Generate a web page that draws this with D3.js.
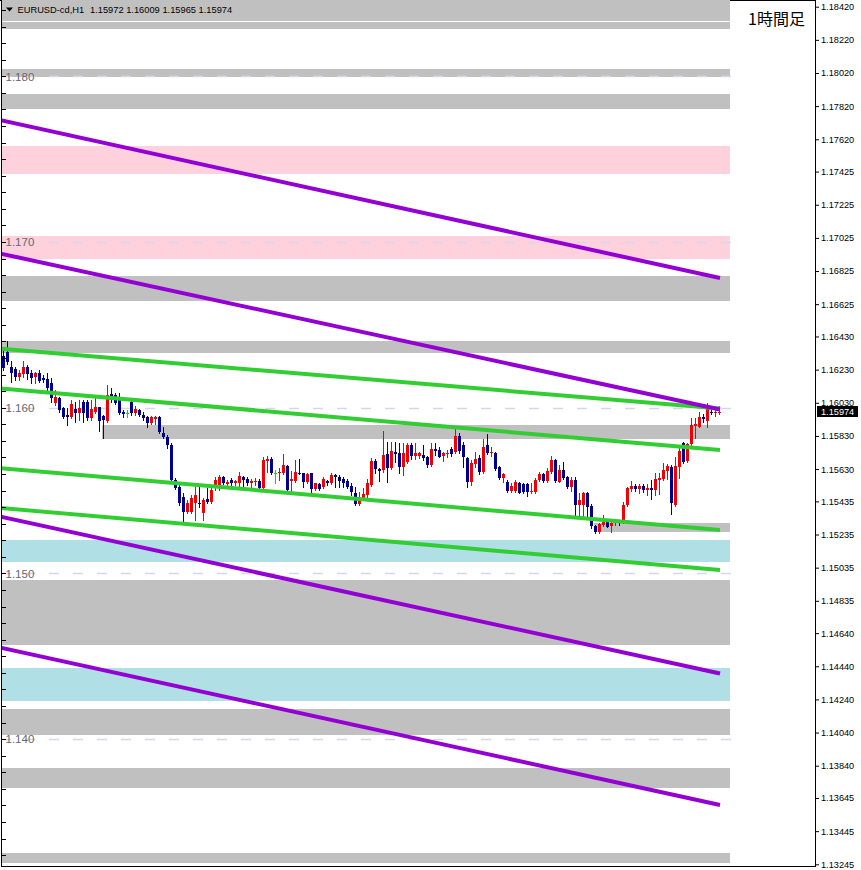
<!DOCTYPE html>
<html><head><meta charset="utf-8">
<script src="https://cdn.jsdelivr.net/npm/d3@7"></script>
<style>body{margin:0;background:#fff}svg{display:block}</style>
</head><body>
<svg id="c" width="861" height="870"></svg>
<script>
// ---------------- DATA ----------------
const symbolLabel = "EURUSD-cd,H1";
const lastQuote = [1.15972, 1.16009, 1.15965, 1.15974]; // O H L C of last bar
const timeframeLabel = "1時間足";

const open = [1.16312,1.16336,1.16246,1.16234,1.16186,1.16204,1.16246,1.16210,1.16186,1.16210,
1.16180,1.16174,1.16149,1.16029,1.16059,1.15999,1.15956,1.15944,1.15993,1.15968,
1.16035,1.16035,1.15938,1.15974,1.16005,1.15950,1.15920,1.16083,1.16077,1.16047,
1.15974,1.15968,1.16035,1.15968,1.15986,1.15956,1.15944,1.15908,1.15932,1.15944,
1.15848,1.15824,1.15775,1.15564,1.15522,1.15462,1.15371,1.15371,1.15425,1.15425,
1.15365,1.15450,1.15431,1.15522,1.15516,1.15582,1.15540,1.15564,1.15546,1.15546,
1.15582,1.15570,1.15546,1.15552,1.15558,1.15516,1.15679,1.15691,1.15606,1.15606,
1.15606,1.15649,1.15558,1.15558,1.15606,1.15606,1.15552,1.15606,1.15510,1.15540,
1.15522,1.15558,1.15546,1.15594,1.15582,1.15570,1.15558,1.15528,1.15486,1.15419,
1.15456,1.15474,1.15534,1.15679,1.15631,1.15624,1.15721,1.15637,1.15733,1.15727,
1.15643,1.15673,1.15775,1.15709,1.15709,1.15715,1.15703,1.15655,1.15751,1.15745,
1.15709,1.15721,1.15751,1.15733,1.15829,1.15775,1.15697,1.15552,1.15661,1.15697,
1.15612,1.15775,1.15724,1.15727,1.15643,1.15576,1.15552,1.15498,1.15498,1.15546,
1.15540,1.15540,1.15492,1.15492,1.15564,1.15600,1.15558,1.15612,1.15685,1.15552,
1.15624,1.15582,1.15522,1.15564,1.15413,1.15413,1.15486,1.15407,1.15287,1.15250,
1.15293,1.15311,1.15287,1.15305,1.15311,1.15311,1.15413,1.15510,1.15528,1.15510,
1.15528,1.15504,1.15516,1.15504,1.15564,1.15570,1.15618,1.15643,1.15413,1.15643,
1.15787,1.15679,1.15781,1.15890,1.15884,1.15944,1.15920,1.15974,1.15968,1.15972];

const high = [1.16348,1.16403,1.16282,1.16246,1.16228,1.16282,1.16258,1.16228,1.16216,1.16228,
1.16198,1.16210,1.16180,1.16107,1.16065,1.16005,1.15999,1.16047,1.16035,1.16047,
1.16047,1.16047,1.16047,1.16059,1.16005,1.15956,1.16137,1.16119,1.16089,1.16089,
1.15986,1.15986,1.16041,1.16011,1.15993,1.15974,1.15950,1.15950,1.15950,1.15950,
1.15884,1.15836,1.15787,1.15576,1.15534,1.15486,1.15443,1.15474,1.15522,1.15522,
1.15456,1.15516,1.15516,1.15582,1.15594,1.15588,1.15564,1.15576,1.15564,1.15612,
1.15588,1.15582,1.15570,1.15576,1.15570,1.15703,1.15709,1.15703,1.15624,1.15637,
1.15721,1.15655,1.15618,1.15685,1.15691,1.15606,1.15606,1.15606,1.15546,1.15546,
1.15582,1.15564,1.15606,1.15600,1.15594,1.15582,1.15570,1.15546,1.15522,1.15492,
1.15516,1.15570,1.15697,1.15691,1.15637,1.15860,1.15793,1.15793,1.15793,1.15787,
1.15787,1.15787,1.15787,1.15787,1.15733,1.15775,1.15709,1.15787,1.15787,1.15763,
1.15733,1.15745,1.15763,1.15872,1.15848,1.15793,1.15703,1.15685,1.15733,1.15715,
1.15811,1.15842,1.15763,1.15733,1.15649,1.15606,1.15564,1.15546,1.15564,1.15552,
1.15546,1.15546,1.15546,1.15576,1.15612,1.15606,1.15637,1.15709,1.15691,1.15655,
1.15673,1.15588,1.15582,1.15582,1.15486,1.15492,1.15492,1.15419,1.15293,1.15305,
1.15353,1.15323,1.15323,1.15323,1.15323,1.15431,1.15522,1.15558,1.15540,1.15540,
1.15540,1.15540,1.15564,1.15606,1.15606,1.15667,1.15661,1.15655,1.15703,1.15763,
1.15793,1.15787,1.15938,1.15938,1.15974,1.15962,1.16029,1.15986,1.15986,1.16009];

const low = [1.16228,1.16264,1.16155,1.16167,1.16167,1.16186,1.16174,1.16149,1.16149,1.16155,
1.16155,1.16107,1.16035,1.16017,1.15974,1.15938,1.15896,1.15938,1.15914,1.15926,
1.15914,1.15926,1.15926,1.15968,1.15860,1.15818,1.15914,1.16035,1.16023,1.15962,
1.15944,1.15944,1.15956,1.15956,1.15950,1.15926,1.15884,1.15902,1.15902,1.15848,
1.15818,1.15757,1.15552,1.15510,1.15413,1.15311,1.15365,1.15365,1.15323,1.15401,
1.15323,1.15425,1.15425,1.15504,1.15504,1.15540,1.15534,1.15534,1.15534,1.15522,
1.15522,1.15534,1.15522,1.15534,1.15504,1.15510,1.15612,1.15600,1.15546,1.15564,
1.15600,1.15498,1.15498,1.15552,1.15600,1.15522,1.15546,1.15492,1.15504,1.15504,
1.15516,1.15534,1.15540,1.15522,1.15522,1.15522,1.15516,1.15474,1.15413,1.15413,
1.15450,1.15462,1.15528,1.15606,1.15558,1.15612,1.15552,1.15631,1.15673,1.15606,
1.15594,1.15667,1.15691,1.15691,1.15697,1.15685,1.15643,1.15649,1.15715,1.15703,
1.15679,1.15703,1.15709,1.15727,1.15727,1.15643,1.15522,1.15534,1.15643,1.15600,
1.15606,1.15721,1.15709,1.15624,1.15570,1.15552,1.15492,1.15492,1.15492,1.15486,
1.15486,1.15468,1.15486,1.15486,1.15558,1.15552,1.15552,1.15606,1.15552,1.15552,
1.15570,1.15516,1.15498,1.15353,1.15353,1.15347,1.15347,1.15275,1.15244,1.15244,
1.15287,1.15281,1.15250,1.15293,1.15293,1.15305,1.15407,1.15498,1.15498,1.15486,
1.15492,1.15474,1.15450,1.15474,1.15480,1.15564,1.15570,1.15359,1.15407,1.15576,
1.15667,1.15673,1.15775,1.15818,1.15884,1.15914,1.15884,1.15962,1.15950,1.15965];

const close = [1.16240,1.16276,1.16210,1.16186,1.16210,1.16246,1.16204,1.16180,1.16210,1.16161,
1.16167,1.16119,1.16059,1.16065,1.15986,1.15944,1.15944,1.16023,1.15968,1.15999,
1.15968,1.15938,1.15993,1.16005,1.15920,1.15926,1.16077,1.16047,1.16029,1.15968,
1.15962,1.15968,1.15968,1.15993,1.15956,1.15938,1.15908,1.15944,1.15944,1.15854,
1.15824,1.15775,1.15564,1.15516,1.15425,1.15371,1.15425,1.15456,1.15474,1.15419,
1.15443,1.15431,1.15504,1.15564,1.15582,1.15546,1.15552,1.15546,1.15558,1.15588,
1.15564,1.15546,1.15558,1.15558,1.15516,1.15685,1.15691,1.15606,1.15606,1.15612,
1.15655,1.15504,1.15570,1.15612,1.15600,1.15552,1.15600,1.15510,1.15546,1.15510,
1.15570,1.15546,1.15594,1.15582,1.15558,1.15546,1.15522,1.15492,1.15419,1.15437,
1.15480,1.15546,1.15679,1.15631,1.15618,1.15715,1.15637,1.15739,1.15721,1.15643,
1.15727,1.15775,1.15709,1.15727,1.15727,1.15697,1.15655,1.15751,1.15739,1.15703,
1.15727,1.15727,1.15721,1.15829,1.15739,1.15703,1.15552,1.15667,1.15691,1.15612,
1.15763,1.15727,1.15730,1.15631,1.15576,1.15600,1.15498,1.15528,1.15552,1.15486,
1.15492,1.15492,1.15498,1.15564,1.15600,1.15558,1.15618,1.15685,1.15558,1.15624,
1.15576,1.15522,1.15564,1.15413,1.15443,1.15486,1.15401,1.15287,1.15250,1.15299,
1.15311,1.15281,1.15305,1.15311,1.15305,1.15413,1.15516,1.15528,1.15510,1.15528,
1.15504,1.15516,1.15504,1.15570,1.15576,1.15624,1.15649,1.15425,1.15649,1.15739,
1.15673,1.15781,1.15896,1.15902,1.15944,1.15932,1.16005,1.15968,1.15974,1.15974];

// right price-scale tick labels
const priceTicks = [1.18420,1.18220,1.18020,1.17820,1.17620,1.17425,1.17225,1.17025,1.16825,
1.16625,1.16430,1.16230,1.16030,1.15830,1.15630,1.15435,1.15235,1.15035,1.14835,1.14640,
1.14440,1.14240,1.14040,1.13840,1.13645,1.13445,1.13245];
// round-number levels (dashed) with labels
const roundLevels = [1.180, 1.170, 1.160, 1.150, 1.140];

// zones: [upper price, lower price, first bar (null = from left edge)]
const greyZones = [
  [1.18460,1.18334,null],[1.18328,1.18285,null],[1.18044,1.17996,null],[1.17893,1.17802,null],
  [1.16795,1.16644,null],[1.16403,1.16331,null],[1.15896,1.15812,25],[1.15305,1.15251,148],
  [1.14961,1.14568,null],[1.14182,1.14025,null],[1.13826,1.13705,null],[1.13313,1.13253,null]
];
const pinkZones = [[1.17579,1.17410,null],[1.17036,1.16898,null]];
const blueZones = [[1.15202,1.15069,null],[1.14430,1.14231,null]];

// channel lines: [price at lineBars[0], price at lineBars[1]]
const greenLines = [[1.16357,1.15995],[1.16116,1.15745],[1.15636,1.15262],[1.15395,1.15021]];
const purpleLines = [[1.17736,1.16783],[1.16931,1.15989],[1.15344,1.14396],[1.14553,1.13603]];
const lineBars = [-0.75, 179.25];
const zoneEndBar = 181.75;
const levelEndBar = 183.75;

// ---------------- DRAW ----------------
const svg = d3.select("#c");
const W = 861, H = 870;
const plotRight = 815, plotBottom = 866;
const uiFont = "Liberation Sans, Arial, sans-serif";

const x = d3.scaleLinear().domain([0, close.length - 1]).range([3, 719]);
const y = d3.scaleLinear().domain([1.13245, 1.18420]).range([864.3, 6.7]);

svg.append("rect").attr("width", W).attr("height", H).attr("fill", "#fff");

svg.append("defs").append("clipPath").attr("id", "plot")
  .append("rect").attr("x", 1).attr("y", 0).attr("width", plotRight - 1).attr("height", plotBottom);

svg.append("line").attr("x1", 0).attr("x2", plotRight).attr("y1", 0.5).attr("y2", 0.5).attr("stroke", "#000");

const plot = svg.append("g").attr("clip-path", "url(#plot)");

function drawZones(list, color) {
  plot.append("g").selectAll("rect").data(list).join("rect")
    .attr("x", d => d[2] === null ? 0 : Math.round(x(d[2])) - 1)
    .attr("width", d => Math.round(x(zoneEndBar)) - (d[2] === null ? 0 : Math.round(x(d[2])) - 1))
    .attr("y", d => Math.round(y(d[0])))
    .attr("height", d => Math.max(1, Math.round(y(d[1])) - Math.round(y(d[0]))))
    .attr("fill", color)
    .attr("shape-rendering", "crispEdges");
}
drawZones(greyZones, "#c0c0c0");
drawZones(pinkZones, "#ffd1dc");
drawZones(blueZones, "#b0e0e6");

// dashed round levels
plot.append("g").selectAll("line").data(roundLevels).join("line")
  .attr("x1", 1).attr("x2", x(levelEndBar))
  .attr("y1", d => Math.round(y(d)) + 0.5).attr("y2", d => Math.round(y(d)) + 0.5)
  .attr("stroke", "#d6d6ec").attr("stroke-width", 1.4).attr("stroke-dasharray", "10,14");

// candles
const idx = d3.range(close.length);
const colorOf = i => close[i] > open[i] ? "#f00000" : (close[i] < open[i] ? "#00008b" : "#00e000");
const cg = plot.append("g").attr("shape-rendering", "crispEdges");
cg.selectAll("rect.w").data(idx).join("rect").attr("class", "w")
  .attr("x", i => Math.round(x(i))).attr("width", 1)
  .attr("y", i => Math.round(y(high[i])))
  .attr("height", i => Math.max(1, Math.round(y(low[i])) - Math.round(y(high[i])) + 1))
  .attr("fill", colorOf);
cg.selectAll("rect.b").data(idx).join("rect").attr("class", "b")
  .attr("x", i => Math.round(x(i)) - 1).attr("width", 3)
  .attr("y", i => Math.round(y(Math.max(open[i], close[i]))))
  .attr("height", i => Math.max(1, Math.round(y(Math.min(open[i], close[i]))) - Math.round(y(Math.max(open[i], close[i])))))
  .attr("fill", colorOf);

// channel lines
function drawLines(list, color) {
  plot.append("g").selectAll("line").data(list).join("line")
    .attr("x1", x(lineBars[0])).attr("x2", x(lineBars[1]))
    .attr("y1", d => y(d[0])).attr("y2", d => y(d[1]))
    .attr("stroke", color).attr("stroke-width", 4);
}
drawLines(greenLines, "#32cd32");
drawLines(purpleLines, "#9400d3");

// round-level labels
svg.append("g").selectAll("text").data(roundLevels).join("text")
  .attr("x", 5.5).attr("y", d => y(d) + 4.3)
  .attr("font-family", uiFont).attr("font-size", 11.5)
  .attr("fill", "#68686e").text(d3.format(".3f"));

// left minor ticks every 0.001
svg.append("g").selectAll("line").data(d3.range(1133, 1185).map(v => v / 1000)).join("line")
  .attr("x1", 1).attr("x2", 6)
  .attr("y1", d => Math.round(y(d)) + 0.5).attr("y2", d => Math.round(y(d)) + 0.5)
  .attr("stroke", "#000");

// frame lines
svg.append("line").attr("x1", 1.5).attr("x2", 1.5).attr("y1", 0).attr("y2", plotBottom + 1).attr("stroke", "#000");
svg.append("line").attr("x1", plotRight + 0.5).attr("x2", plotRight + 0.5).attr("y1", 0).attr("y2", plotBottom + 1).attr("stroke", "#000");
svg.append("line").attr("x1", 1).attr("x2", plotRight).attr("y1", plotBottom + 0.5).attr("y2", plotBottom + 0.5).attr("stroke", "#000");

// right price axis
const axis = d3.axisRight(y).tickValues(priceTicks).tickFormat(d3.format(".5f")).tickSize(4).tickPadding(2);
const ag = svg.append("g").attr("transform", `translate(${plotRight},0)`).call(axis);
ag.select(".domain").remove();
ag.selectAll("line").attr("stroke", "#000");
ag.selectAll("text").attr("font-family", uiFont).attr("font-size", 9.2).attr("fill", "#000");

// current price tag
const lastClose = lastQuote[3];
svg.append("rect").attr("x", 817).attr("y", Math.round(y(lastClose)) - 6).attr("width", 41).attr("height", 11).attr("fill", "#000");
svg.append("text").attr("x", 821).attr("y", y(lastClose) + 3)
  .attr("font-family", uiFont).attr("font-size", 9.2).attr("fill", "#fff")
  .text(d3.format(".5f")(lastClose));

// header
svg.append("path").attr("d", "M6,7.5 L13,7.5 L9.5,11.5 Z").attr("fill", "#000");
svg.append("text").attr("x", 17.5).attr("y", 12.8)
  .attr("font-family", uiFont).attr("font-size", 9.3).attr("fill", "#000")
  .text(symbolLabel);
svg.append("text").attr("x", 90).attr("y", 12.8)
  .attr("font-family", uiFont).attr("font-size", 9.3).attr("fill", "#000")
  .text(lastQuote.map(d3.format(".5f")).join(" "));

// timeframe label
svg.append("text").attr("x", 805).attr("y", 25).attr("text-anchor", "end")
  .attr("font-family", "Noto Sans CJK JP, sans-serif").attr("font-size", 16).attr("fill", "#000")
  .text(timeframeLabel);
</script>
</body></html>
